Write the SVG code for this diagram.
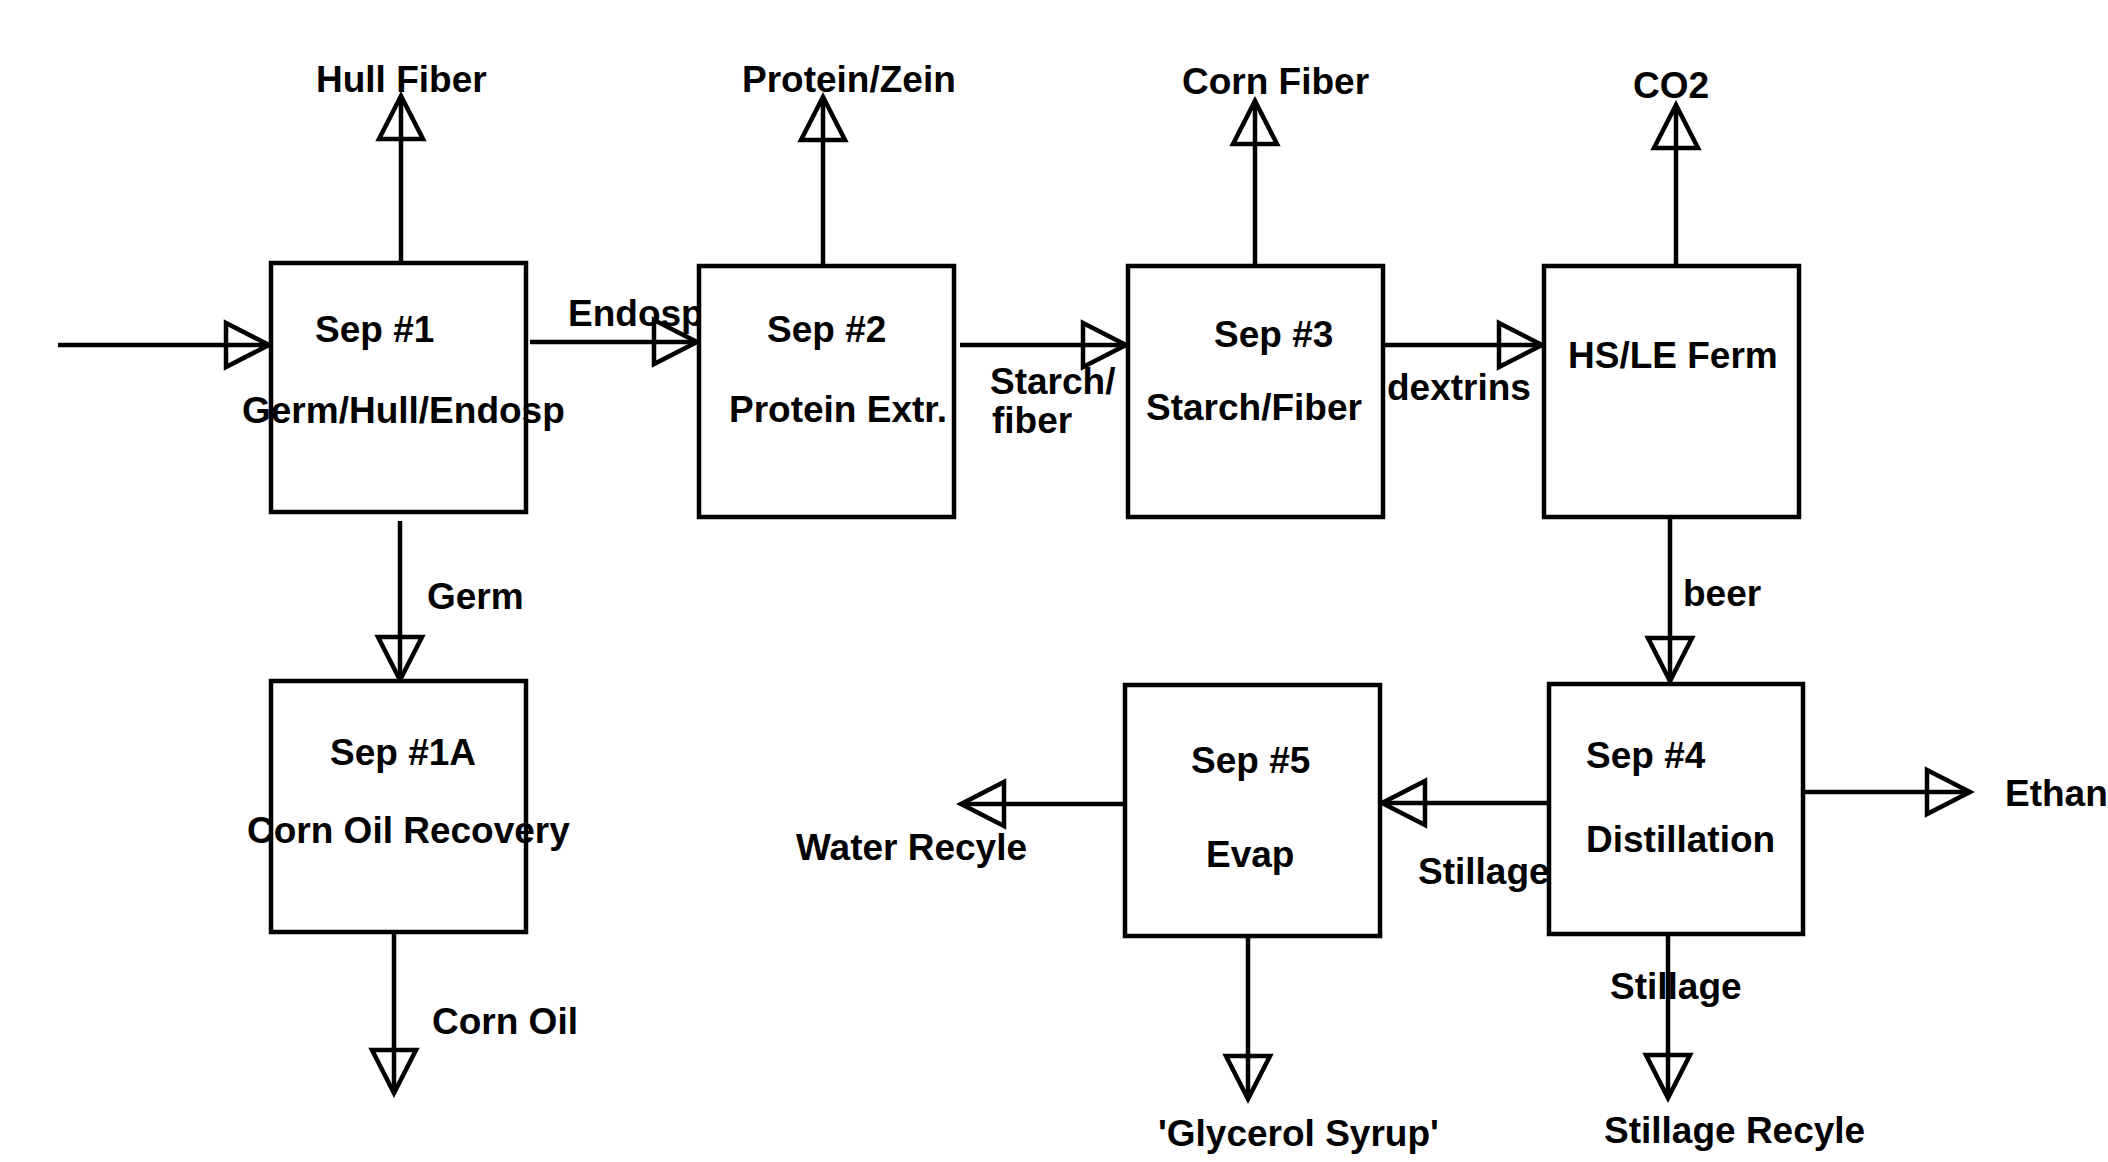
<svg xmlns="http://www.w3.org/2000/svg" width="2108" height="1162" viewBox="0 0 2108 1162">
<style>
  .box { fill: #fff; stroke: #000; stroke-width: 4.5; stroke-linejoin: miter; }
  .lbl { font-family: "Liberation Sans", Arial, sans-serif; font-size: 37px; font-weight: bold; fill: #000; }
  .edge { fill: none; stroke: #000; stroke-width: 4.5; marker-end: url(#tri); }
</style>
<defs>
  <marker id="tri" markerUnits="userSpaceOnUse" markerWidth="60" markerHeight="60" viewBox="-50 -30 60 60" refX="0" refY="0" orient="auto" overflow="visible">
    <path d="M-43,-22 L0,0 L-43,22 Z" fill="none" stroke="#000" stroke-width="4.5" stroke-linejoin="miter"/>
  </marker>
</defs>
<rect width="2108" height="1162" fill="#fff"/>

<g id="connectors">
  <path class="edge" d="M58,345 H269"/>
  <path class="edge" d="M401,263 V96"/>
  <path class="edge" d="M530,342 H697"/>
  <path class="edge" d="M823,266 V97"/>
  <path class="edge" d="M960,345 H1126"/>
  <path class="edge" d="M1255,266 V101"/>
  <path class="edge" d="M1378,345 H1542"/>
  <path class="edge" d="M1676,266 V105"/>
  <path class="edge" d="M400,521 V680"/>
  <path class="edge" d="M394,928 V1093"/>
  <path class="edge" d="M1670,517 V681"/>
  <path class="edge" d="M1803,792 H1970"/>
  <path class="edge" d="M1549,803 H1382"/>
  <path class="edge" d="M1125,804 H961"/>
  <path class="edge" d="M1248,937 V1099"/>
  <path class="edge" d="M1668,935 V1098"/>
  <text class="lbl" x="316" y="92">Hull Fiber</text>
  <text class="lbl" x="742" y="92">Protein/Zein</text>
  <text class="lbl" x="1182" y="94">Corn Fiber</text>
  <text class="lbl" x="1633" y="98">CO2</text>
  <text class="lbl" x="568" y="326">Endosp</text>
  <text class="lbl" x="990" y="394">Starch/</text>
  <text class="lbl" x="992" y="433">fiber</text>
  <text class="lbl" x="1387" y="400">dextrins</text>
  <text class="lbl" x="427" y="609">Germ</text>
  <text class="lbl" x="432" y="1034">Corn Oil</text>
  <text class="lbl" x="1683" y="606">beer</text>
  <text class="lbl" x="2005" y="806">Ethanol</text>
  <text class="lbl" x="1418" y="884">Stillage</text>
  <text class="lbl" x="796" y="860">Water Recyle</text>
  <text class="lbl" x="1158" y="1146">'Glycerol Syrup'</text>
  <text class="lbl" x="1610" y="999">Stillage</text>
  <text class="lbl" x="1604" y="1143">Stillage Recyle</text>
</g>

<g id="sep1">
  <rect class="box" x="271" y="263" width="255" height="249"/>
  <text class="lbl" x="315" y="342">Sep #1</text>
  <text class="lbl" x="242" y="423">Germ/Hull/Endosp</text>
</g>
<g id="sep2">
  <rect class="box" x="699" y="266" width="255" height="251"/>
  <text class="lbl" x="767" y="342">Sep #2</text>
  <text class="lbl" x="729" y="422">Protein Extr.</text>
</g>
<g id="sep3">
  <rect class="box" x="1128" y="266" width="255" height="251"/>
  <text class="lbl" x="1214" y="347">Sep #3</text>
  <text class="lbl" x="1146" y="420">Starch/Fiber</text>
</g>
<g id="ferm">
  <rect class="box" x="1544" y="266" width="255" height="251"/>
  <text class="lbl" x="1568" y="368">HS/LE Ferm</text>
</g>
<g id="sep1a">
  <rect class="box" x="271" y="681" width="255" height="251"/>
  <text class="lbl" x="330" y="765">Sep #1A</text>
  <text class="lbl" x="247" y="843">Corn Oil Recovery</text>
</g>
<g id="sep5">
  <rect class="box" x="1125" y="685" width="255" height="251"/>
  <text class="lbl" x="1191" y="773">Sep #5</text>
  <text class="lbl" x="1206" y="867">Evap</text>
</g>
<g id="sep4">
  <rect class="box" x="1549" y="684" width="254" height="250"/>
  <text class="lbl" x="1586" y="768">Sep #4</text>
  <text class="lbl" x="1586" y="852">Distillation</text>
</g>
</svg>
